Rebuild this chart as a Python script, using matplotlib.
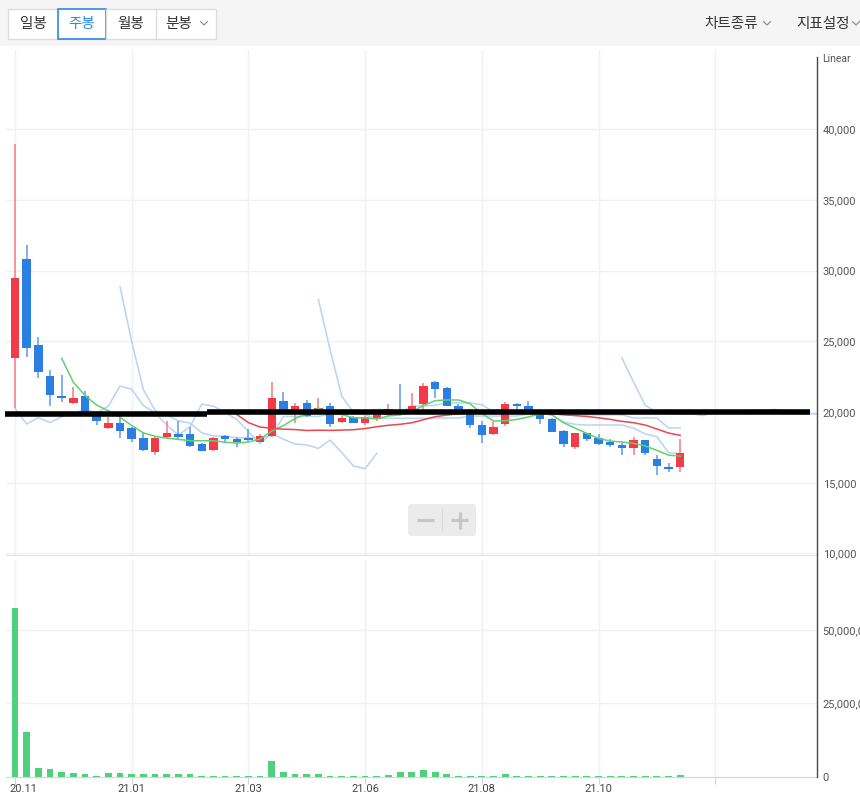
import numpy as np
import pandas as pd
import matplotlib
matplotlib.use('Agg')
import matplotlib.pyplot as plt
from matplotlib.patches import Rectangle, FancyBboxPatch
from matplotlib.lines import Line2D

plt.rcParams['font.family'] = ['Roboto', 'Noto Sans CJK KR', 'DejaVu Sans']

# weekly candles
opens = [23850, 30830, 24730, 22550, 21150, 20640, 21160, 20000, 18870, 19200,
         18850, 18180, 17190, 18260, 18440, 18440, 17740, 17310, 18320, 18090,
         18150, 17900, 18300, 20760, 19950, 20610, 19950, 20420, 19330, 19650,
         19200, 19480, 19800, 20150, 19950, 20560, 22150, 21700, 20450, 20150,
         19080, 18440, 19150, 20560, 20420, 19850, 19500, 18650, 17500, 18500,
         18150, 17860, 17700, 17480, 18020, 16660, 16110, 16140]
highs = [38950, 31840, 25290, 22980, 22620, 21790, 21470, 20100, 19620, 19650,
         18960, 18610, 18300, 19340, 19390, 18960, 17800, 18250, 18390, 18250,
         18800, 18440, 22150, 21440, 20610, 20850, 21000, 20610, 19700, 19700,
         19750, 20000, 20560, 21950, 21320, 22050, 22200, 21750, 20600, 20200,
         19390, 19320, 20730, 20620, 20760, 19950, 19550, 18700, 18550, 18550,
         18440, 18070, 17780, 18200, 18050, 16960, 16380, 18070]
lows = [20300, 23920, 22430, 20450, 20690, 20600, 19800, 19050, 18780, 18140,
        17880, 17250, 16960, 18070, 18020, 17500, 17230, 17240, 17780, 17500,
        17900, 17850, 18200, 19900, 19250, 19650, 19850, 18910, 19250, 19200,
        19100, 19400, 19750, 19900, 19850, 20190, 20970, 20400, 19900, 18840,
        17830, 18400, 19010, 20100, 19900, 19150, 18600, 17500, 17400, 17970,
        17700, 17550, 16960, 16960, 16960, 15550, 15790, 15790]
closes = [29450, 24560, 22820, 21200, 20970, 20990, 19900, 19380, 19200, 18680,
          18070, 17290, 18180, 18540, 18260, 17590, 17260, 18180, 18070, 17900,
          18000, 18320, 20970, 20000, 20420, 19700, 20260, 19150, 19600, 19250,
          19670, 19900, 20200, 19950, 20420, 21840, 21610, 20450, 19950, 19080,
          18370, 18960, 20560, 20420, 19950, 19480, 18620, 17760, 18490, 18070,
          17740, 17670, 17430, 18020, 17130, 16190, 15990, 17080]
volumes_m = [57.6, 15.1, 3.0, 2.6, 1.5, 1.1, 0.8, 0.3, 1.2, 1.2,
             0.8, 0.7, 0.7, 0.7, 0.7, 0.7, 0.3, 0.3, 0.3, 0.2,
             0.2, 0.3, 5.3, 1.6, 1.0, 0.7, 1.0, 0.3, 0.3, 0.2,
             0.2, 0.2, 0.5, 1.4, 1.4, 2.2, 1.4, 0.9, 0.2, 0.2,
             0.2, 0.2, 1.0, 0.3, 0.2, 0.2, 0.2, 0.3, 0.2, 0.2,
             0.2, 0.2, 0.2, 0.2, 0.2, 0.2, 0.2, 0.6]
date_ticks = [0, 10, 20, 30, 40, 50]
date_labels = ['20.11', '21.01', '21.03', '21.06', '21.08', '21.10']
grid_candles = [0, 10, 20, 30, 40, 50, 60]
price_ticks = [10000, 15000, 20000, 25000, 30000, 35000, 40000]
vol_ticks = [0, 25000000, 50000000]
# hand-drawn horizontal line on the chart: (price level, from candle, to candle)
drawn_lines = [(19880, -0.86, 16.45), (19990, 16.45, 68.1)]

W, H = 860, 805
fig = plt.figure(figsize=(W / 100, H / 100), dpi=100)
fig.patch.set_facecolor('white')


def px_axes(left, top, right, bottom):
    return fig.add_axes([left / W, 1 - bottom / H, (right - left) / W, (bottom - top) / H])


ax_p = px_axes(6, 50, 817, 555)
ax_v = px_axes(6, 560, 817, 777)

x = np.arange(len(closes))
o = np.array(opens); hi = np.array(highs); lo = np.array(lows); c = np.array(closes)
vol = np.array(volumes_m) * 1e6
up = c >= o

RED, BLUE = '#f23b48', '#2b7fe0'
RED_W, BLUE_W = '#f4858c', '#6aa3ea'
XLIM = (-0.77, 68.72)

for ax in (ax_p, ax_v):
    ax.set_xlim(*XLIM)
    for s in ('left', 'top', 'right'):
        ax.spines[s].set_visible(False)
    for g in grid_candles:
        ax.axvline(g, color='#edf1f7', lw=1, zorder=0)
    ax.yaxis.tick_right()
    ax.tick_params(axis='y', length=0, pad=4, labelsize=8, labelcolor='#555555')

# price panel
ax_p.set_ylim(9890, 45600)
ax_p.set_yticks(price_ticks)
ax_p.set_yticklabels([f'{t:,}' for t in price_ticks])
for t in price_ticks:
    ax_p.axhline(t, color='#f1f1f1', lw=1, zorder=0)
ax_p.spines['bottom'].set_color('#e4e4e4')
ax_p.set_xticks([])

# ichimoku lines (light blue)
hs, ls, cs = pd.Series(highs), pd.Series(lows), pd.Series(closes)
tenkan = (hs.rolling(9).max() + ls.rolling(9).min()) / 2
kijun = (hs.rolling(26).max() + ls.rolling(26).min()) / 2
span_a = (tenkan + kijun) / 2
last = len(closes) - 1
LB = '#b8d3f4'
ax_p.plot(x[:last] + 1, tenkan.values[:last], color=LB, lw=1.1, zorder=1)
ax_p.plot(x[:last] + 1, kijun.values[:last], color=LB, lw=1.1, zorder=1)
ax_p.plot(x + 27, span_a.values, color=LB, lw=1.1, zorder=1)
ax_p.plot(x[26:] - 26, c[26:], color=LB, lw=1.1, zorder=1)

# candles
ax_p.vlines(x, lo, hi, colors=np.where(up, RED_W, BLUE_W), lw=1.2, zorder=3)
body_lo = np.minimum(o, c)
body_h = np.maximum(np.abs(c - o), 60)
ax_p.bar(x, body_h, bottom=body_lo, width=0.72, color=np.where(up, RED, BLUE), zorder=4)

# moving averages
ax_p.plot(x, cs.rolling(5).mean(), color='#5fd26e', lw=1.1, zorder=5)
ax_p.plot(x, cs.rolling(20).mean(), color='#e9464d', lw=1.1, zorder=5)

for level, x0, x1 in drawn_lines:
    ax_p.plot([x0, x1], [level, level], color='black', lw=4.0,
              solid_capstyle='butt', zorder=6, clip_on=False)

# volume panel
ax_v.set_ylim(-0.17e6, 74.1e6)
ax_v.bar(x, vol, width=0.58, color='#4fd07c', zorder=3)
ax_v.set_yticks(vol_ticks)
ax_v.set_yticklabels([f'{t:,}' for t in vol_ticks])
for t in vol_ticks[1:]:
    ax_v.axhline(t, color='#f1f1f1', lw=1, zorder=0)
ax_v.spines['bottom'].set_color('#cfd6e3')
ax_v.set_xticks(grid_candles)
ax_v.set_xticklabels([])
ax_v.tick_params(axis='x', length=5, color='#cfd6e3', direction='out')
for t, lab in zip(date_ticks, date_labels):
    if t == 0:
        ax_v.text(t - 0.5, -0.03, lab, transform=ax_v.get_xaxis_transform(),
                  ha='left', va='top', fontsize=8, color='#444444')
    else:
        ax_v.text(t, -0.03, lab, transform=ax_v.get_xaxis_transform(),
                  ha='center', va='top', fontsize=8, color='#444444')

# overlay: header, axis line, zoom control
ov = fig.add_axes([0, 0, 1, 1], zorder=10)
ov.set_xlim(0, W)
ov.set_ylim(H, 0)
ov.axis('off')
ov.patch.set_alpha(0)

ov.add_patch(Rectangle((0, 0), W, 46, color='#f5f5f5', lw=0))
ov.add_patch(Rectangle((8, 9), 208, 30, facecolor='white', edgecolor='#dcdcdc', lw=1))
for dx in (106, 156):
    ov.add_line(Line2D([dx, dx], [9, 39], color='#dcdcdc', lw=1))
ov.add_patch(Rectangle((57.5, 9), 48.5, 30, facecolor='white', edgecolor='#2b8ae6', lw=1.2))
kr = ['Noto Sans CJK KR', 'DejaVu Sans']
for label, cx, col in [('일봉', 33, '#333333'), ('주봉', 82, '#2b8ae6'),
                       ('월봉', 131, '#333333'), ('분봉', 179, '#333333'),
                       ('차트종류', 731, '#333333'), ('지표설정', 823, '#333333')]:
    ov.text(cx, 24, label, ha='center', va='center', fontsize=10.5, color=col, family=kr)
for vx in (204, 767, 856):
    ov.add_line(Line2D([vx - 3.5, vx, vx + 3.5], [21.5, 25, 21.5], color='#888888', lw=0.8))

ov.text(822, 59, 'Linear', ha='left', va='center', fontsize=7.5, color='#555555')
ov.add_line(Line2D([817, 817], [57, 777], color='#4a4a4a', lw=1))

ov.add_patch(FancyBboxPatch((408, 504), 68, 32, boxstyle='round,pad=0,rounding_size=3',
                            facecolor='#ebebeb', edgecolor='none'))
ov.add_line(Line2D([417, 434], [520, 520], color='#c6c6c6', lw=2.3, solid_capstyle='butt'))
ov.add_line(Line2D([442, 442], [509, 530], color='#d9d9d9', lw=0.8))
ov.add_line(Line2D([451, 468], [520, 520], color='#c6c6c6', lw=2.3, solid_capstyle='butt'))
ov.add_line(Line2D([459.5, 459.5], [511.5, 528.5], color='#c6c6c6', lw=2.3, solid_capstyle='butt'))

fig.savefig('out.png', dpi=100)
